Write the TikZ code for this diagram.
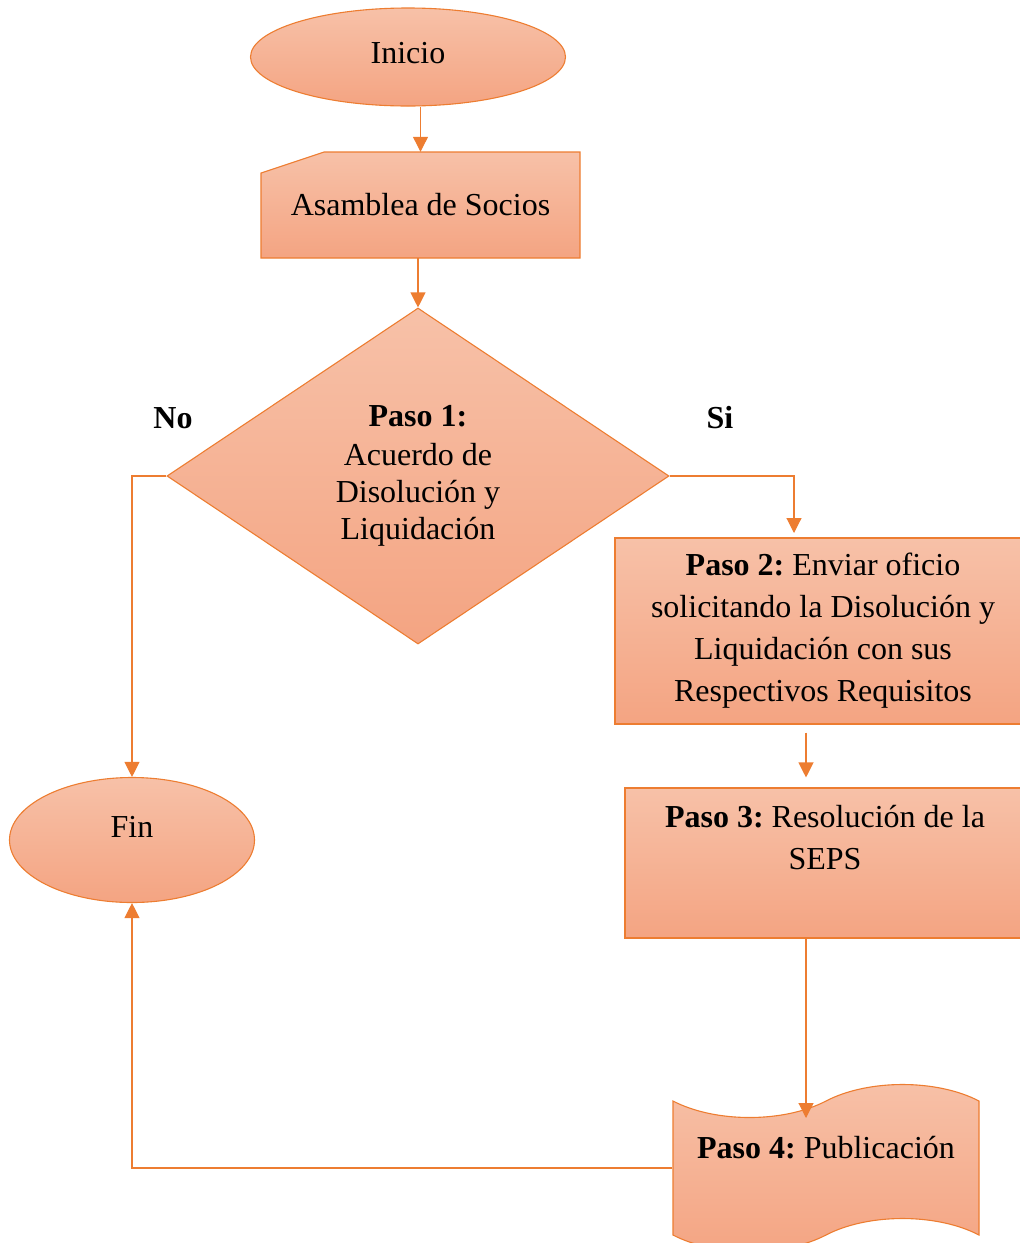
\documentclass[tikz,border=0pt]{standalone}
\usepackage{fontspec}
\setmainfont{Liberation Serif}
\usepackage{tikz}
\usetikzlibrary{shapes.geometric,shapes.symbols,arrows.meta}

\definecolor{orline}{HTML}{ED7D31}
\definecolor{ortop}{HTML}{F7C1A8}
\definecolor{orbot}{HTML}{F4A482}

\tikzset{
  shadebox/.style={draw=orline, line width=1.1pt, top color=ortop, bottom color=orbot,
    font=\fontsize{32}{42}\selectfont, align=center, inner sep=0pt},
  startstop/.style={shadebox, ellipse},
  decision/.style={shadebox, diamond, aspect=1.494, font=\fontsize{32}{37}\selectfont},
  process/.style={shadebox, rectangle},
  docbox/.style={shadebox, tape, tape bend top=in and out, tape bend bottom=in and out, tape bend height=33pt},
  arr/.style={draw=orline, line width=1.1pt, -{Triangle[length=15pt,width=15pt]}},
  lbl/.style={font=\fontsize{32}{38}\selectfont\bfseries}
}

\begin{document}
\frenchspacing
\begin{tikzpicture}[x=1pt,y=-1pt]
  \useasboundingbox (0,0) rectangle (1020,1243);

  % Start and manual input
  \node[startstop, minimum width=315pt, minimum height=98pt, text height=22pt, text depth=10pt] (inicio) at (408,57) {Inicio};
  \draw[shadebox] (261,258) -- (261,173) -- (324,152) -- (580,152) -- (580,258) -- cycle;
  \node[font=\fontsize{32}{42}\selectfont, minimum width=319pt, minimum height=106pt] (asamblea) at (420.5,205) {Asamblea de Socios};

  % Decision
  \node[decision, minimum width=502pt, minimum height=336pt] (paso1) at (418,476)
    {\textbf{Paso 1:}\\[2pt]Acuerdo de\\Disolución y\\Liquidación};
  \node[lbl] (no) at (173,418) {No};
  \node[lbl] (si) at (720,418) {Si};

  % Steps
  \node[process, minimum width=416pt, minimum height=186pt] (paso2) at (823,631)
    {\textbf{Paso 2:} Enviar oficio\\solicitando la Disolución y\\Liquidación con sus\\Respectivos Requisitos};
  \node[process, minimum width=400pt, minimum height=150pt] (paso3) at (825,863)
    {\textbf{Paso 3:} Resolución de la\\SEPS\\[10pt]~};
  \node[docbox, minimum width=306pt, minimum height=167pt] (paso4) at (826,1168)
    {\textbf{Paso 4:} Publicación\\~};

  % End
  \node[startstop, minimum width=245pt, minimum height=125pt, text height=22pt, text depth=28pt] (fin) at (132,840) {Fin};

  % Connectors
  \coordinate (colsi) at (794,538);
  \coordinate (col) at (806,0);
  \coordinate (p4in) at (806,1118);
  \draw[arr] (inicio.south -| asamblea) -- (asamblea.north);
  \draw[arr] (asamblea.south -| paso1) -- (paso1.north);
  \draw[arr] (paso1.west) -| (fin.north);
  \draw[arr, shorten >=5pt] (paso1.east) -| (colsi);
  \draw[arr, shorten <=8pt, shorten >=10pt] (paso2.south -| col) -- (paso3.north -| col);
  \draw[arr] (paso3.south -| col) -- (p4in);
  \draw[arr] (paso4.west) -| (fin.south);
\end{tikzpicture}
\end{document}
